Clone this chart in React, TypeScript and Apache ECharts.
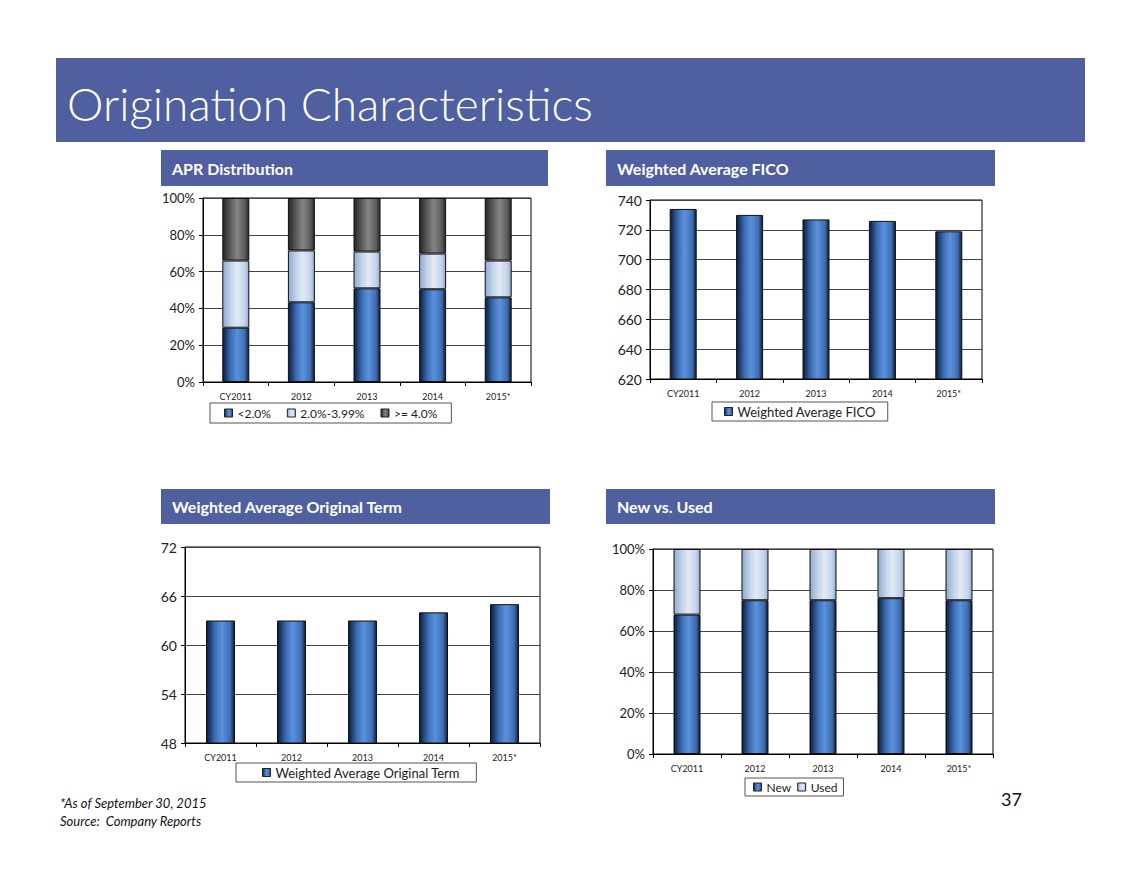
import React, { useEffect, useRef } from "react";
import * as echarts from "echarts";

const categories = ["CY2011", "2012", "2013", "2014", "2015*"];
const aprLt2 = [29.5, 43.3, 50.9, 50.4, 46.0];
const aprMid = [36.5, 28.2, 20.0, 19.4, 20.0];
const aprGe4 = [34.0, 28.5, 29.1, 30.2, 34.0];
const fico = [734, 730, 727, 726, 719];
const term = [63, 63, 63, 64, 65];
const newShare = [68, 75, 75, 76, 75];
const usedShare = [32, 25, 25, 24, 25];

const BAND = "#4f5f9f";
const FONT = "Lato, 'Open Sans', sans-serif";

const grad = (edge: string, mid: string, peak: string) =>
  new echarts.graphic.LinearGradient(0, 0, 1, 0, [
    { offset: 0, color: edge },
    { offset: 0.3, color: mid },
    { offset: 0.55, color: peak },
    { offset: 0.85, color: mid },
    { offset: 1, color: edge },
  ]);

const blue = () => grad("#0e1b36", "#3c6db3", "#5b92dc");
const lightBlue = () => grad("#8fa9cf", "#c3d4ea", "#e2eaf5");
const gray = () => grad("#262626", "#5c5c5c", "#858585");

const catAxis = (gridIndex: number) => ({
  type: "category",
  gridIndex,
  data: categories,
  axisLine: { lineStyle: { color: "#000", width: 1 } },
  axisTick: { show: true, length: 4, lineStyle: { color: "#000" } },
  axisLabel: { fontSize: 9, color: "#222", fontFamily: FONT, margin: 10 },
});

const valAxis = (
  gridIndex: number,
  min: number,
  max: number,
  interval: number,
  fontSize: number,
  fmt?: string
) => ({
  type: "value",
  gridIndex,
  min,
  max,
  interval,
  axisLine: { show: true, lineStyle: { color: "#000", width: 1 } },
  axisTick: { show: true, length: 4, lineStyle: { color: "#000" } },
  splitLine: { show: true, lineStyle: { color: "#444", width: 1 } },
  axisLabel: {
    fontSize,
    color: "#222",
    fontFamily: FONT,
    margin: 8,
    formatter: fmt,
  },
});

const legendBase = {
  orient: "horizontal",
  backgroundColor: "#fff",
  borderColor: "#555",
  borderWidth: 1,
  itemWidth: 8,
  itemHeight: 8,
  icon: "rect",
  textStyle: { fontSize: 12, color: "#222", fontFamily: FONT },
  itemStyle: { borderColor: "#222", borderWidth: 1 },
};

const barBorder = { borderColor: "#111", borderWidth: 1 };

export default function App() {
  const ref = useRef<HTMLDivElement>(null);

  useEffect(() => {
    if (!ref.current) return;
    const chart = echarts.init(ref.current, undefined, { renderer: "svg" });

    const subBar = (x: number, y: number, w: number, h: number, label: string) => [
      { type: "rect", shape: { x, y, width: w, height: h }, style: { fill: BAND } },
      {
        type: "text",
        x: x + 11,
        y: y + h / 2,
        style: {
          text: label,
          fill: "#fff",
          font: `bold 16px ${FONT}`,
          textVerticalAlign: "middle",
        },
      },
    ];

    chart.setOption({
      animation: false,
      backgroundColor: "#fff",
      graphic: [
        { type: "rect", shape: { x: 56, y: 58, width: 1029, height: 84 }, style: { fill: BAND } },
        {
          type: "text",
          x: 67,
          y: 103,
          style: {
            text: "Origination Characteristics",
            fill: "#fff",
            font: `300 46px ${FONT}`,
            textVerticalAlign: "middle",
          },
        },
        ...subBar(161, 150, 387, 36, "APR Distribution"),
        ...subBar(606, 150, 389, 36, "Weighted Average FICO"),
        ...subBar(161, 489, 389, 35, "Weighted Average Original Term"),
        ...subBar(606, 489, 389, 35, "New vs. Used"),
        {
          type: "text",
          x: 60,
          y: 796,
          style: {
            text: "*As of September 30, 2015",
            fill: "#111",
            font: `italic 13px ${FONT}`,
          },
        },
        {
          type: "text",
          x: 60,
          y: 814,
          style: {
            text: "Source:  Company Reports",
            fill: "#111",
            font: `italic 13px ${FONT}`,
          },
        },
        {
          type: "text",
          x: 1001,
          y: 790,
          style: { text: "37", fill: "#111", font: `18px ${FONT}` },
        },
      ],
      grid: [
        { left: 203, top: 198, width: 328, height: 184, show: true, borderColor: "#000", borderWidth: 1 },
        { left: 650, top: 200, width: 332, height: 179, show: true, borderColor: "#000", borderWidth: 1 },
        { left: 185, top: 547, width: 355, height: 196, show: true, borderColor: "#000", borderWidth: 1 },
        { left: 653, top: 549, width: 340, height: 205, show: true, borderColor: "#000", borderWidth: 1 },
      ],
      xAxis: [catAxis(0), catAxis(1), catAxis(2), catAxis(3)],
      yAxis: [
        valAxis(0, 0, 100, 20, 13, "{value}%"),
        valAxis(1, 620, 740, 20, 14),
        valAxis(2, 48, 72, 6, 14),
        valAxis(3, 0, 100, 20, 13, "{value}%"),
      ],
      legend: [
        {
          ...legendBase,
          left: 210,
          top: 403,
          padding: [4, 14, 4, 14],
          itemGap: 16,
          data: ["<2.0%", "2.0%-3.99%", ">= 4.0%"],
        },
        {
          ...legendBase,
          left: 712,
          top: 402,
          padding: [3, 12, 3, 12],
          textStyle: { ...legendBase.textStyle, fontSize: 13 },
          data: ["Weighted Average FICO"],
        },
        {
          ...legendBase,
          left: 236,
          top: 763,
          padding: [3, 16, 3, 26],
          textStyle: { ...legendBase.textStyle, fontSize: 13 },
          data: ["Weighted Average Original Term"],
        },
        {
          ...legendBase,
          left: 745,
          top: 778,
          padding: [3, 6, 3, 8],
          itemGap: 6,
          data: ["New", "Used"],
        },
      ],
      series: [
        {
          name: "<2.0%",
          type: "bar",
          stack: "apr",
          xAxisIndex: 0,
          yAxisIndex: 0,
          barWidth: 27,
          data: aprLt2,
          itemStyle: { color: blue(), ...barBorder },
        },
        {
          name: "2.0%-3.99%",
          type: "bar",
          stack: "apr",
          xAxisIndex: 0,
          yAxisIndex: 0,
          barWidth: 27,
          data: aprMid,
          itemStyle: { color: lightBlue(), ...barBorder },
        },
        {
          name: ">= 4.0%",
          type: "bar",
          stack: "apr",
          xAxisIndex: 0,
          yAxisIndex: 0,
          barWidth: 27,
          data: aprGe4,
          itemStyle: { color: gray(), ...barBorder },
        },
        {
          name: "Weighted Average FICO",
          type: "bar",
          xAxisIndex: 1,
          yAxisIndex: 1,
          barWidth: 27,
          data: fico,
          itemStyle: { color: blue(), ...barBorder },
        },
        {
          name: "Weighted Average Original Term",
          type: "bar",
          xAxisIndex: 2,
          yAxisIndex: 2,
          barWidth: 29,
          data: term,
          itemStyle: { color: blue(), ...barBorder },
        },
        {
          name: "New",
          type: "bar",
          stack: "nu",
          xAxisIndex: 3,
          yAxisIndex: 3,
          barWidth: 27,
          data: newShare,
          itemStyle: { color: blue(), ...barBorder },
        },
        {
          name: "Used",
          type: "bar",
          stack: "nu",
          xAxisIndex: 3,
          yAxisIndex: 3,
          barWidth: 27,
          data: usedShare,
          itemStyle: { color: lightBlue(), ...barBorder },
        },
      ],
    });

    return () => chart.dispose();
  }, []);

  return (
    <div
      ref={ref}
      style={{ position: "fixed", left: 0, top: 0, width: 1143, height: 881 }}
    />
  );
}
